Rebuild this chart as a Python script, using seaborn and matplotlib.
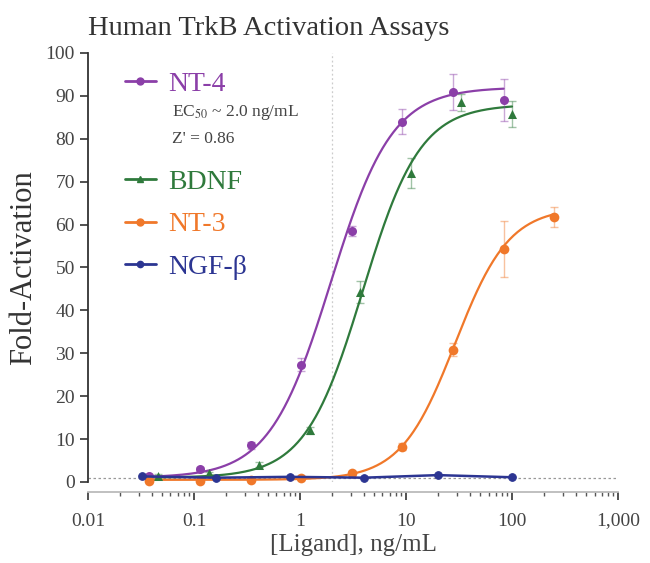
import matplotlib
matplotlib.use("Agg")
import matplotlib.pyplot as plt
import numpy as np
import pandas as pd
import seaborn as sns

# NT-4 and NT-3: 3-fold dilutions, BDNF: 3-fold from 100, NGF-beta: 5-fold from 100
nt4_conc = [0.038, 0.114, 0.343, 1.03, 3.09, 9.26, 27.8, 83.3]
nt4_fold = [1.5, 3.0, 8.6, 27.3, 58.5, 84.0, 91.0, 89.0]
nt4_err = [0.4, 0.5, 0.8, 1.5, 1.2, 2.9, 4.2, 4.9]

bdnf_conc = [0.046, 0.137, 0.41, 1.23, 3.7, 11.1, 33.3, 100]
bdnf_fold = [1.5, 2.0, 4.0, 12.1, 44.3, 72.0, 88.5, 85.8]
bdnf_err = [0.3, 0.3, 0.6, 0.8, 2.5, 3.5, 2.0, 3.1]

nt3_conc = [0.038, 0.114, 0.343, 1.03, 3.09, 9.26, 27.8, 83.3, 250]
nt3_fold = [0.3, 0.3, 0.5, 1.0, 2.0, 8.2, 30.8, 54.3, 61.8]
nt3_err = [0.3, 0.3, 0.3, 0.3, 0.5, 0.8, 1.5, 6.6, 2.3]

ngf_conc = [0.032, 0.16, 0.8, 4, 20, 100]
ngf_fold = [1.3, 1.0, 1.2, 1.0, 1.6, 1.1]
ngf_err = [0.3, 0.3, 0.3, 0.3, 0.3, 0.3]

# 4-parameter logistic fits: NT-4, BDNF, NT-3
fit_bottom = [1.0, 1.0, 0.5]
fit_top = [92.0, 88.0, 64.0]
fit_ec50 = [1.95, 3.9, 29.0]
fit_hill = [1.5, 1.6, 1.7]

x_ticks = [0.01, 0.1, 1, 10, 100, 1000]
x_labels = ["0.01", "0.1", "1", "10", "100", "1,000"]
y_ticks = list(range(0, 101, 10))

purple = "#8B3FA8"
green = "#2F7A3C"
orange = "#F0782A"
blue = "#2C3592"


def logistic(x, b, t, ec, h):
    return b + (t - b) / (1 + (ec / x) ** h)


def main():
    sns.set_theme(style="ticks")
    plt.rcParams["font.family"] = ["Liberation Serif", "DejaVu Serif"]
    plt.rcParams["mathtext.fontset"] = "stix"

    fig = plt.figure(figsize=(6.5, 5.63), dpi=100)
    ax = fig.add_axes([0.1354, 0.1439, 0.8154, 0.762])

    # reference lines
    ax.axhline(1, color="#999999", ls=(0, (2, 2)), lw=0.9, zorder=0)
    ax.axvline(2.0, color="#cccccc", ls=(0, (1.5, 2)), lw=0.9, zorder=0)

    series = [
        ("NT-4", nt4_conc, nt4_fold, nt4_err, purple, "o", 6.5),
        ("BDNF", bdnf_conc, bdnf_fold, bdnf_err, green, "^", 6.5),
        ("NT-3", nt3_conc, nt3_fold, nt3_err, orange, "o", 7),
    ]
    handles = []
    for i, (name, xc, yv, ye, col, mk, ms) in enumerate(series):
        xs = np.logspace(np.log10(xc[0]), np.log10(xc[-1]), 300)
        curve = pd.DataFrame({"x": xs, "y": logistic(xs, fit_bottom[i], fit_top[i], fit_ec50[i], fit_hill[i])})
        sns.lineplot(data=curve, x="x", y="y", color=col, lw=1.6, ax=ax, zorder=2)
        ax.errorbar(xc, yv, yerr=ye, fmt="none", ecolor=col, alpha=0.45, elinewidth=1, capsize=3, zorder=3, clip_on=False)
        sns.scatterplot(x=xc, y=yv, color=col, marker=mk, s=ms ** 2, edgecolor=col, linewidth=0, ax=ax, zorder=4, clip_on=False)
        handles.append(plt.Line2D([], [], color=col, lw=2, marker=mk, ms=5))

    ngf = pd.DataFrame({"x": ngf_conc, "y": ngf_fold})
    ax.errorbar(ngf_conc, ngf_fold, yerr=ngf_err, fmt="none", ecolor=blue, alpha=0.4, elinewidth=1, capsize=2, zorder=5)
    sns.lineplot(data=ngf, x="x", y="y", color=blue, lw=1.8, marker="o", ms=5.5, mec=blue, ax=ax, zorder=6)
    handles.append(plt.Line2D([], [], color=blue, lw=2, marker="o", ms=4.5))

    ax.set_xscale("log")
    ax.set_xlim(0.01, 1000)
    ax.set_ylim(0, 100)
    ax.set_xticks(x_ticks)
    ax.set_xticklabels(x_labels)
    ax.set_yticks(y_ticks)
    ax.tick_params(axis="both", labelsize=14, colors="#333333", labelcolor="#444444", width=1.2)
    ax.tick_params(axis="both", which="major", length=6)
    ax.tick_params(axis="x", which="major", pad=9)
    ax.tick_params(axis="x", which="minor", length=3, width=1, color="#555555")

    sns.despine(ax=ax)
    ax.spines["bottom"].set_position(("outward", 7))
    for s in ["left", "bottom"]:
        ax.spines[s].set_color("#333333")
        ax.spines[s].set_linewidth(1.3)
    ax.spines["bottom"].set_color("#bbbbbb")

    ax.set_xlabel("[Ligand], ng/mL", fontsize=18, color="#444444", labelpad=3)
    ax.set_ylabel("Fold-Activation", fontsize=22, color="#333333", labelpad=5)
    ax.set_title("Human TrkB Activation Assays", loc="left", fontsize=20.5, color="#333333", pad=13)

    # legend
    leg1 = ax.legend(handles[:1], ["NT-4"], loc="center left", bbox_to_anchor=(0.0698, 0.927),
                     frameon=False, fontsize=20, borderpad=0, borderaxespad=0,
                     handlelength=1.1, handletextpad=0.45, labelcolor=[purple])
    ax.add_artist(leg1)
    ax.legend(handles[1:], ["BDNF", "NT-3", "NGF-β"], loc="center left", bbox_to_anchor=(0.0698, 0.600),
              frameon=False, fontsize=20, borderpad=0, borderaxespad=0, labelspacing=0.61,
              handlelength=1.1, handletextpad=0.45, labelcolor=[green, orange, blue])

    ax.text(0.158, 0.862, "EC$_{50}$ ~ 2.0 ng/mL", transform=ax.transAxes, fontsize=12.5,
            color="#444444", va="center", ha="left")
    ax.text(0.158, 0.800, "Z' = 0.86", transform=ax.transAxes, fontsize=12.5,
            color="#444444", va="center", ha="left")

    fig.savefig("out.png", dpi=100)
    plt.close(fig)


if __name__ == '__main__':
    main()
